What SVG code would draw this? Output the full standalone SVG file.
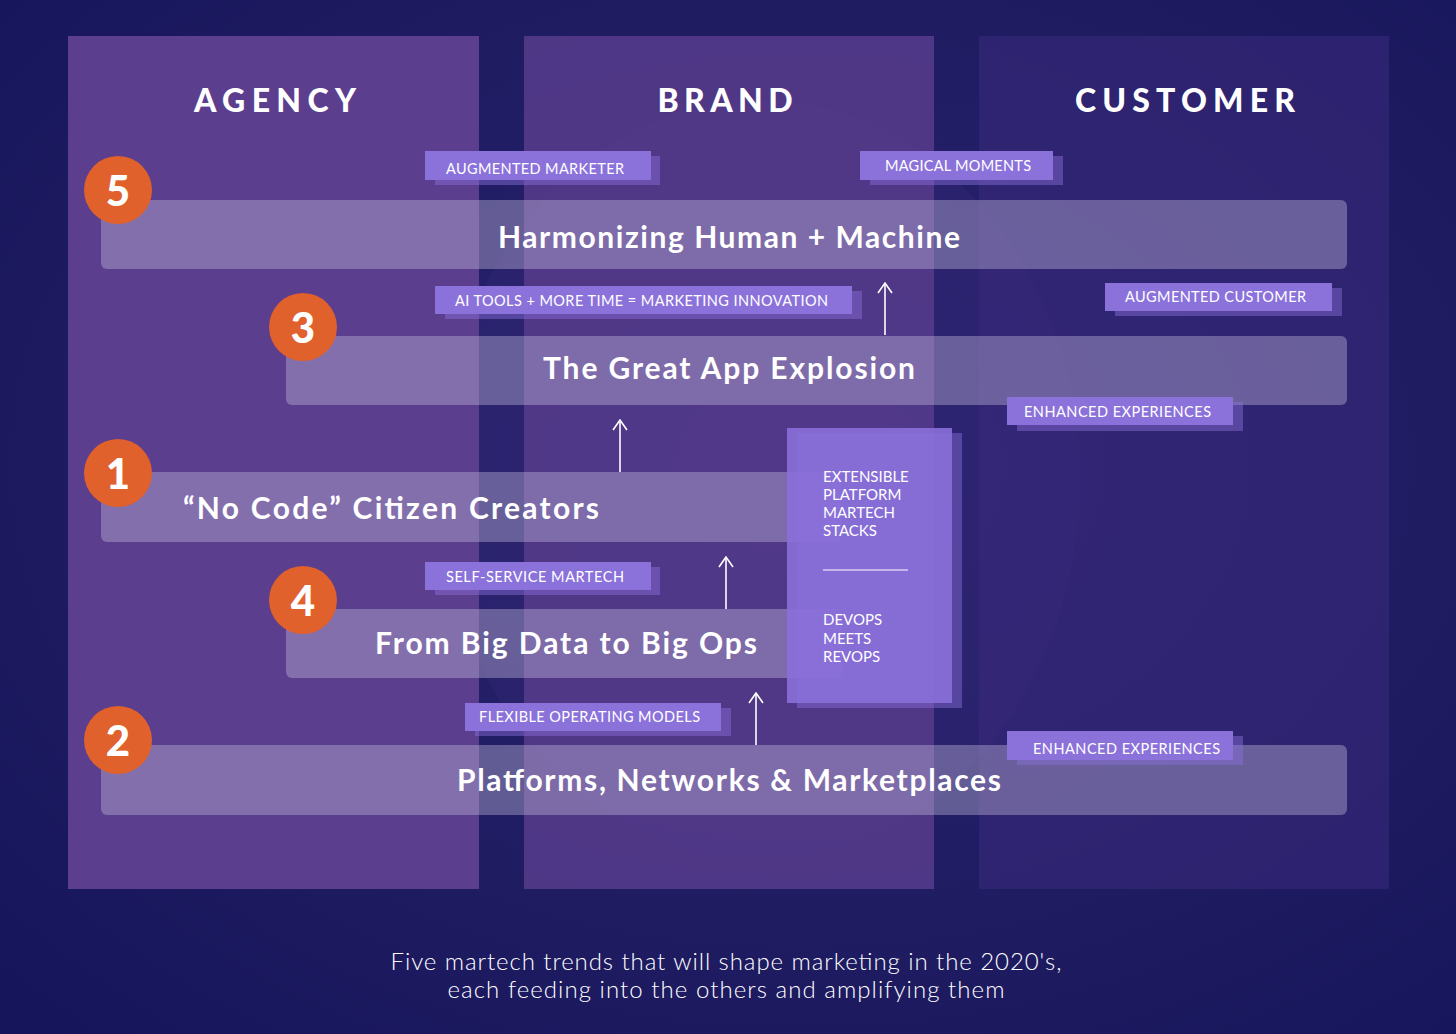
<svg xmlns="http://www.w3.org/2000/svg" width="1456" height="1034" viewBox="0 0 1456 1034">
<defs>
<radialGradient id="bgg" cx="0.55" cy="0.45" r="0.75">
<stop offset="0" stop-color="#2c2470"/>
<stop offset="0.6" stop-color="#1f1c62"/>
<stop offset="1" stop-color="#16145a"/>
</radialGradient>
<marker id="ah" viewBox="0 0 12 16" refX="11" refY="8" markerWidth="12" markerHeight="16" markerUnits="userSpaceOnUse" orient="auto">
<path d="M1 1 L11 8 L1 15" fill="none" stroke="#ffffff" stroke-width="1.6"/>
</marker>
<style>
.hdr{font-family:Lato,"Open Sans",sans-serif;font-weight:900;font-size:32px;fill:#ffffff;text-anchor:middle}
.bar{fill:#c3b9dc;fill-opacity:0.4}
.title{font-family:Lato,"Open Sans",sans-serif;font-weight:700;font-size:30px;fill:#ffffff;text-anchor:middle}
.num{fill:#e0612b}
.numt{font-family:Lato,"Open Sans",sans-serif;font-weight:900;font-size:42px;fill:#ffffff;text-anchor:middle}
.tag{fill:#8b72db}
.tags{fill:#8b72db;fill-opacity:0.45}
.tagt{font-family:Lato,"Open Sans",sans-serif;font-weight:400;font-size:14.5px;fill:#ffffff}
.boxt{font-family:Lato,"Open Sans",sans-serif;font-weight:400;font-size:15px;fill:#ffffff}
.cap{font-family:Lato,"Open Sans",sans-serif;font-weight:300;font-size:24px;fill:#ffffff;text-anchor:middle}
.arr{stroke:#ffffff;stroke-width:1.6;fill:none}
</style>
</defs>
<rect width="1456" height="1034" fill="url(#bgg)"/>
<ellipse cx="760" cy="480" rx="320" ry="380" fill="#3a2d80" opacity="0.25"/>

<g id="columns">
<rect id="col-agency" x="68" y="36" width="411" height="853" fill="#5b3e8e"/>
<rect id="col-brand" x="524" y="36" width="410" height="853" fill="#573c8c" fill-opacity="0.85"/>
<rect id="col-customer" x="979" y="36" width="410" height="853" fill="#3a2a7c" fill-opacity="0.55"/>
<text class="hdr" x="275" y="112" textLength="162" lengthAdjust="spacing">AGENCY</text>
<text class="hdr" x="725" y="112" textLength="135" lengthAdjust="spacing">BRAND</text>
<text class="hdr" x="1185" y="112" textLength="220" lengthAdjust="spacing">CUSTOMER</text>
</g>

<g id="trend5">
<rect class="bar" x="101" y="200" width="1246" height="69" rx="6"/>
<text class="title" x="729" y="248" textLength="462" lengthAdjust="spacing">Harmonizing Human + Machine</text>
<circle class="num" cx="118" cy="190" r="34"/>
<text class="numt" x="118" y="206">5</text>
</g>

<g id="trend3">
<rect class="bar" x="286" y="336" width="1061" height="69" rx="6"/>
<text class="title" x="729" y="379" textLength="372" lengthAdjust="spacing">The Great App Explosion</text>
<circle class="num" cx="303" cy="327" r="34"/>
<text class="numt" x="303" y="343">3</text>
</g>

<g id="trend1">
<rect class="bar" x="101" y="472" width="740" height="70" rx="6"/>
<text class="title" x="391" y="519" textLength="416" lengthAdjust="spacing">“No Code” Citizen Creators</text>
<circle class="num" cx="118" cy="473" r="34"/>
<text class="numt" x="118" y="489">1</text>
</g>

<g id="trend4">
<rect class="bar" x="286" y="609" width="556" height="69" rx="6"/>
<text class="title" x="566" y="654" textLength="382" lengthAdjust="spacing">From Big Data to Big Ops</text>
<circle class="num" cx="303" cy="600" r="34"/>
<text class="numt" x="303" y="616">4</text>
</g>

<g id="trend2">
<rect class="bar" x="101" y="745" width="1246" height="70" rx="6"/>
<text class="title" x="729" y="791" textLength="544" lengthAdjust="spacing">Platforms, Networks &amp; Marketplaces</text>
<circle class="num" cx="118" cy="740" r="34"/>
<text class="numt" x="118" y="756">2</text>
</g>

<g id="stack-box">
<rect x="797" y="433" width="165" height="275" fill="#8b72db" fill-opacity="0.45"/>
<rect x="787" y="428" width="165" height="275" fill="#8a6fd9" fill-opacity="0.9"/>
<text class="boxt" x="823" y="482">EXTENSIBLE</text>
<text class="boxt" x="823" y="500">PLATFORM</text>
<text class="boxt" x="823" y="518">MARTECH</text>
<text class="boxt" x="823" y="536">STACKS</text>
<line x1="823" y1="570" x2="908" y2="570" stroke="#ffffff" stroke-width="1"/>
<text class="boxt" x="823" y="625">DEVOPS</text>
<text class="boxt" x="823" y="644">MEETS</text>
<text class="boxt" x="823" y="662">REVOPS</text>
</g>

<g id="tag-augmented-marketer">
<rect class="tags" x="435" y="156" width="225" height="29"/>
<rect class="tag" x="425" y="151" width="226" height="29"/>
<text class="tagt" x="446" y="174" textLength="178" lengthAdjust="spacing">AUGMENTED MARKETER</text>
</g>
<g id="tag-magical-moments">
<rect class="tags" x="870" y="156" width="193" height="29"/>
<rect class="tag" x="860" y="151" width="193" height="29"/>
<text class="tagt" x="885" y="171" textLength="146" lengthAdjust="spacing">MAGICAL MOMENTS</text>
</g>
<g id="tag-ai-tools">
<rect class="tags" x="445" y="291" width="417" height="28"/>
<rect class="tag" x="435" y="286" width="417" height="28"/>
<text class="tagt" x="455" y="306" textLength="373" lengthAdjust="spacing">AI TOOLS + MORE TIME = MARKETING INNOVATION</text>
</g>
<g id="tag-augmented-customer">
<rect class="tags" x="1115" y="288" width="227" height="28"/>
<rect class="tag" x="1105" y="283" width="227" height="28"/>
<text class="tagt" x="1125" y="302" textLength="181" lengthAdjust="spacing">AUGMENTED CUSTOMER</text>
</g>
<g id="tag-enhanced-1">
<rect class="tags" x="1017" y="402" width="226" height="29"/>
<rect class="tag" x="1007" y="397" width="226" height="28"/>
<text class="tagt" x="1024" y="417" textLength="187" lengthAdjust="spacing">ENHANCED EXPERIENCES</text>
</g>
<g id="tag-self-service">
<rect class="tags" x="435" y="567" width="225" height="28"/>
<rect class="tag" x="425" y="562" width="226" height="28"/>
<text class="tagt" x="446" y="582" textLength="178" lengthAdjust="spacing">SELF-SERVICE MARTECH</text>
</g>
<g id="tag-flexible">
<rect class="tags" x="475" y="708" width="256" height="28"/>
<rect class="tag" x="465" y="703" width="256" height="28"/>
<text class="tagt" x="479" y="722" textLength="221" lengthAdjust="spacing">FLEXIBLE OPERATING MODELS</text>
</g>
<g id="tag-enhanced-2">
<rect class="tags" x="1017" y="736" width="226" height="29"/>
<rect class="tag" x="1007" y="731" width="226" height="29"/>
<text class="tagt" x="1033" y="754" textLength="187" lengthAdjust="spacing">ENHANCED EXPERIENCES</text>
</g>

<g id="connectors">
<line class="arr" x1="885" y1="335" x2="885" y2="283" marker-end="url(#ah)"/>
<line class="arr" x1="620" y1="472" x2="620" y2="420" marker-end="url(#ah)"/>
<line class="arr" x1="726" y1="609" x2="726" y2="557" marker-end="url(#ah)"/>
<line class="arr" x1="756" y1="745" x2="756" y2="693" marker-end="url(#ah)"/>
</g>

<g id="caption">
<text class="cap" x="726" y="970" textLength="671" lengthAdjust="spacing">Five martech trends that will shape marketing in the 2020's,</text>
<text class="cap" x="726" y="998" textLength="557" lengthAdjust="spacing">each feeding into the others and amplifying them</text>
</g>
</svg>
